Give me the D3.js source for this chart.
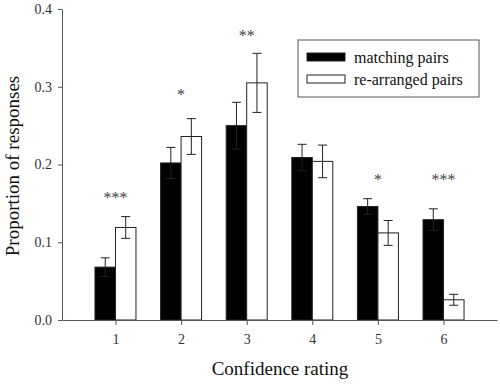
<!DOCTYPE html>
<html>
<head>
<meta charset="utf-8">
<script src="https://cdn.jsdelivr.net/npm/d3@7"></script>
<style>
    body { margin: 0; background: #fff; }
</style>
</head>
<body>
<div id="chart"></div>
<script>
// Data
const ratings = [1, 2, 3, 4, 5, 6];
const series = ['matching pairs', 're-arranged pairs'];
const matching = [0.068, 0.202, 0.250, 0.209, 0.146, 0.129];
const matchingErr = [0.012, 0.020, 0.030, 0.017, 0.010, 0.014];
const rearranged = [0.119, 0.236, 0.305, 0.204, 0.112, 0.026];
const rearrangedErr = [0.014, 0.023, 0.038, 0.021, 0.016, 0.007];
const stars = ['***', '*', '**', '', '*', '***'];
const starLevel = [0.150, 0.283, 0.359, 0, 0.174, 0.174];
const yTicks = [0.0, 0.1, 0.2, 0.3, 0.4];

const serif = '"Liberation Serif", "Times New Roman", serif';
const width = 500, height = 384;
const margin = {top: 9, right: 3, bottom: 64, left: 62};

const svg = d3.select('#chart')
    .append('svg')
    .attr('width', width)
    .attr('height', height)
    .attr('font-family', serif);

const x = d3.scalePoint()
    .domain(ratings)
    .range([margin.left, width - margin.right])
    .padding(0.815);

const sub = d3.scaleBand()
    .domain(series)
    .range([-20.5, 20.5])
    .padding(0);

const y = d3.scaleLinear()
    .domain([0, 0.4])
    .range([height - margin.bottom, margin.top]);

const fill = d3.scaleOrdinal().domain(series).range(['#000', '#fff']);

const rows = ratings.map((r, i) => ({
    rating: r,
    bars: [
        {key: series[0], value: matching[i], err: matchingErr[i]},
        {key: series[1], value: rearranged[i], err: rearrangedErr[i]}
    ],
    star: stars[i],
    starLevel: starLevel[i]
}));

// Bars
const groups = svg.selectAll('g.group')
    .data(rows)
    .enter()
    .append('g')
    .attr('class', 'group')
    .attr('transform', d => `translate(${x(d.rating)},0)`);

groups.selectAll('rect')
    .data(d => d.bars)
    .enter()
    .append('rect')
    .attr('x', d => sub(d.key))
    .attr('y', d => y(d.value))
    .attr('width', sub.bandwidth())
    .attr('height', d => y(0) - y(d.value))
    .attr('fill', d => fill(d.key))
    .attr('stroke', '#222')
    .attr('stroke-width', 1);

// Error bars
const eb = groups.selectAll('g.err')
    .data(d => d.bars)
    .enter()
    .append('g')
    .attr('class', 'err')
    .attr('transform', d => `translate(${sub(d.key) + sub.bandwidth() / 2},0)`)
    .attr('stroke', '#222')
    .attr('stroke-width', 1);

eb.append('line')
    .attr('x1', 0).attr('x2', 0)
    .attr('y1', d => y(d.value + d.err))
    .attr('y2', d => y(d.value - d.err));
eb.append('line')
    .attr('x1', -4.5).attr('x2', 4.5)
    .attr('y1', d => y(d.value + d.err))
    .attr('y2', d => y(d.value + d.err));
eb.append('line')
    .attr('x1', -4.5).attr('x2', 4.5)
    .attr('y1', d => y(d.value - d.err))
    .attr('y2', d => y(d.value - d.err));

// Significance stars
groups.filter(d => d.star)
    .append('text')
    .attr('x', 0)
    .attr('y', d => y(d.starLevel))
    .attr('text-anchor', 'middle')
    .attr('font-family', serif)
    .attr('font-size', '16px')
    .attr('fill', '#444')
    .text(d => d.star);

// Y axis
svg.append('g')
    .attr('transform', `translate(${margin.left},0)`)
    .call(d3.axisLeft(y)
        .tickValues(yTicks)
        .tickFormat(d3.format('.1f'))
        .tickSize(4)
        .tickSizeOuter(0)
        .tickPadding(6))
    .call(g => g.attr('font-family', serif))
    .call(g => g.select('.domain').attr('stroke', '#555'))
    .call(g => g.selectAll('.tick line').attr('stroke', '#555'))
    .call(g => g.selectAll('text')
        .attr('font-size', '14px')
        .attr('fill', '#333'));

// X axis
svg.append('g')
    .attr('transform', `translate(0,${y(0)})`)
    .call(d3.axisBottom(x)
        .tickSize(5)
        .tickSizeOuter(0)
        .tickPadding(9))
    .call(g => g.attr('font-family', serif))
    .call(g => g.select('.domain').attr('stroke', '#555'))
    .call(g => g.selectAll('.tick line').attr('stroke', '#555'))
    .call(g => g.selectAll('text')
        .attr('font-size', '14px')
        .attr('fill', '#333'));

// Axis titles
svg.append('text')
    .attr('x', 280)
    .attr('y', 375)
    .attr('text-anchor', 'middle')
    .attr('font-size', '19px')
    .attr('fill', '#111')
    .text('Confidence rating');

svg.append('text')
    .attr('transform', 'rotate(-90)')
    .attr('x', -166)
    .attr('y', 19)
    .attr('text-anchor', 'middle')
    .attr('font-size', '19px')
    .attr('fill', '#111')
    .text('Proportion of responses');

// Legend
const legend = svg.append('g')
    .attr('transform', 'translate(298,40)');

legend.append('rect')
    .attr('width', 181)
    .attr('height', 57)
    .attr('fill', '#fff')
    .attr('stroke', '#555')
    .attr('stroke-width', 1);

const item = legend.selectAll('g.item')
    .data(series)
    .enter()
    .append('g')
    .attr('class', 'item')
    .attr('transform', (d, i) => `translate(9,${13 + i * 22})`);

item.append('rect')
    .attr('width', 38)
    .attr('height', 8)
    .attr('fill', d => fill(d))
    .attr('stroke', '#222')
    .attr('stroke-width', 1);

item.append('text')
    .attr('x', 47)
    .attr('y', 10)
    .attr('font-family', serif)
    .attr('font-size', '16px')
    .attr('fill', '#111')
    .text(d => d);
</script>
</body>
</html>
